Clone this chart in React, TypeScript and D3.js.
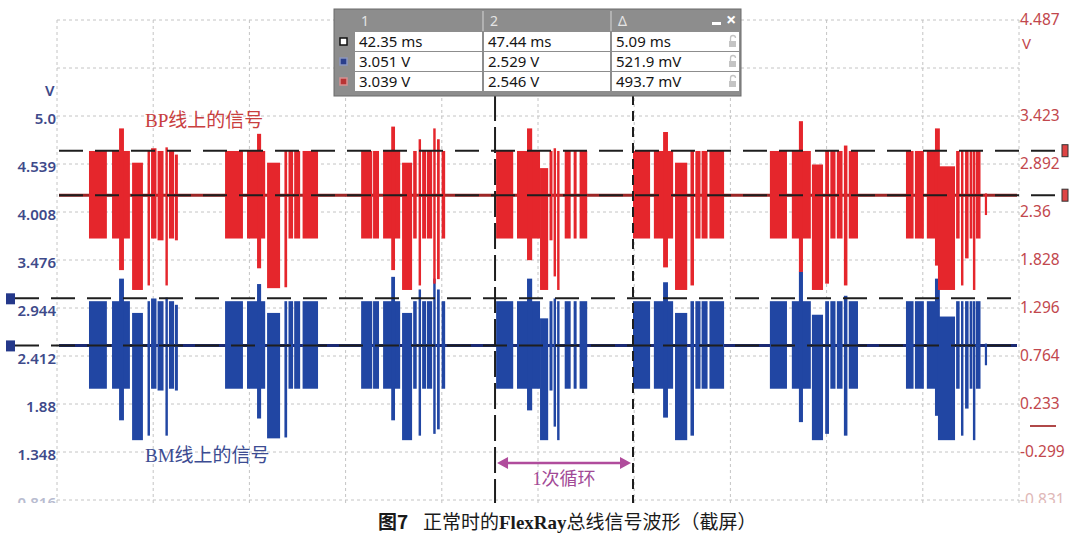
import React from 'react';
import * as d3 from 'd3';

type Segment = [number, number, number, number];

// time window (ms) and the two voltage axes of the scope screen
const timeDomain = [26.19, 61.68];
const bpAxisDomain = [-0.831, 4.487];
const bmAxisDomain = [0.816, 6.135];

const leftTickValues = [5.071, 4.539, 4.008, 3.476, 2.944, 2.412, 1.88, 1.348, 0.816];
const leftTickLabels = ['5.0', '4.539', '4.008', '3.476', '2.944', '2.412', '1.88', '1.348', '0.816'];
const rightTickValues = [4.487, 3.423, 2.892, 2.36, 1.828, 1.296, 0.764, 0.233, -0.299, -0.831];
const rightTickLabels = ['4.487', '3.423', '2.892', '2.36', '1.828', '1.296', '0.764', '0.233', '-0.299', '-0.831'];

// cursor readings
const cursorTimes = [42.35, 47.44];
const bpCursorLevels = [3.039, 2.546];
const bmCursorLevels = [3.051, 2.529];
const bpIdle = 2.546;
const bmIdle = 2.529;

// start of each FlexRay communication cycle (ms)
const burstStarts = [27.37, 32.39, 37.41, 42.39, 47.44, 52.49, 57.51];

// frames inside a burst: [start offset ms, end offset ms, high dev V, low dev V]
const burst1: Segment[] = [
  [0, 0.66, 0.49, -0.48], [0.85, 1.51, 0.49, -0.48], [1.11, 1.29, 0.74, -0.83],
  [1.59, 1.99, 0.36, -1.05], [2.16, 2.25, 0.49, -1.0], [2.29, 2.49, 0.52, -0.48],
  [2.53, 2.75, 0.49, -0.5], [2.82, 2.91, 0.53, -1.0], [2.95, 3.14, 0.49, -0.48],
  [3.17, 3.28, 0.45, -0.5],
];
const burst2: Segment[] = [
  [0, 0.66, 0.49, -0.48], [0.81, 1.48, 0.49, -0.48], [1.18, 1.33, 0.68, -0.81],
  [1.55, 2.03, 0.36, -1.03], [2.19, 2.29, 0.49, -1.02], [2.34, 2.51, 0.49, -0.48],
  [2.55, 2.77, 0.49, -0.48], [2.86, 3.43, 0.49, -0.48],
];
const burst3: Segment[] = [
  [0, 0.41, 0.49, -0.48], [0.44, 0.66, 0.49, -0.48], [0.81, 1.44, 0.49, -0.48],
  [1.11, 1.25, 0.76, -0.83], [1.51, 1.88, 0.36, -1.05], [1.92, 2.05, 0.49, -0.48],
  [2.12, 2.21, 0.62, -1.0], [2.25, 2.4, 0.49, -0.48], [2.43, 2.62, 0.49, -0.48],
  [2.66, 2.75, 0.74, -0.98], [2.8, 2.9, 0.62, -0.93], [2.97, 3.1, 0.49, -0.48],
];
const burst4: Segment[] = [
  [0, 0.63, 0.49, -0.48], [0.77, 1.62, 0.49, -0.48], [1.14, 1.33, 0.74, -0.72],
  [1.62, 1.92, 0.3, -1.05], [1.97, 2.08, 0.49, -0.5], [2.12, 2.21, 0.52, -0.9],
  [2.25, 2.34, 0.49, -1.05], [2.53, 2.75, 0.49, -0.48], [2.86, 2.97, 0.49, -0.48],
  [3.08, 3.36, 0.49, -0.48],
];
const burst5: Segment[] = [
  [0, 0.63, 0.49, -0.48], [0.77, 1.48, 0.49, -0.48], [1.11, 1.29, 0.7, -0.8],
  [1.55, 2.0, 0.36, -1.05], [2.12, 2.25, 0.49, -1.0], [2.3, 2.49, 0.49, -0.48],
  [2.53, 2.75, 0.49, -0.48], [2.82, 3.36, 0.49, -0.48],
];
const burst6: Segment[] = [
  [0, 0.63, 0.49, -0.48], [0.81, 1.51, 0.49, -0.48], [1.07, 1.22, 0.82, -0.85],
  [1.55, 1.96, 0.34, -1.05], [2.04, 2.18, 0.49, -0.98], [2.23, 2.42, 0.49, -0.48],
  [2.47, 2.68, 0.49, -0.48], [2.73, 2.86, 0.55, -1.0], [2.91, 3.25, 0.49, -0.48],
];
const burst7: Segment[] = [
  [0, 0.28, 0.49, -0.48], [0.33, 0.66, 0.49, -0.48], [0.77, 1.18, 0.49, -0.48],
  [1.07, 1.25, 0.74, -0.78], [1.18, 1.81, 0.32, -1.05], [1.85, 1.98, 0.49, -0.48],
  [2.03, 2.12, 0.49, -1.0], [2.18, 2.31, 0.49, -0.7], [2.35, 2.45, 0.49, -0.48],
  [2.47, 2.56, 0.49, -1.05], [2.58, 2.75, 0.49, -0.48], [2.91, 2.99, 0.02, -0.22],
];
const bursts = [burst1, burst2, burst3, burst4, burst5, burst6, burst7];

// measurement table
const tableHeader = ['1', '2', 'Δ'];
const tableTime = ['42.35 ms', '47.44 ms', '5.09 ms'];
const tableBM = ['3.051 V', '2.529 V', '521.9 mV'];
const tableBP = ['3.039 V', '2.546 V', '493.7 mV'];

const uiFont = "'Noto Sans', 'DejaVu Sans', sans-serif";
const cjkFont = "'Liberation Serif', 'Noto Sans CJK SC', serif";

const App: React.FC = () => {
  const svgRef = React.useRef<SVGSVGElement>(null);

  React.useEffect(() => {
    if (!svgRef.current) return;
    const svg = d3.select(svgRef.current);
    svg.selectAll('*').remove();

    const x = d3.scaleLinear().domain(timeDomain).range([57, 1019]);
    const yBP = d3.scaleLinear().domain(bpAxisDomain).range([500, 20]);
    const yBM = d3.scaleLinear().domain(bmAxisDomain).range([500, 20]);

    svg.append('defs')
      .append('clipPath')
      .attr('id', 'screen')
      .append('rect')
      .attr('x', 0).attr('y', 0).attr('width', 1080).attr('height', 503);

    const screen = svg.append('g').attr('clip-path', 'url(#screen)');

    // grid
    const divTimes = d3.range(11).map(k => timeDomain[0] + k * (timeDomain[1] - timeDomain[0]) / 10);
    const divLevels = d3.range(11).map(k => bpAxisDomain[1] - k * (bpAxisDomain[1] - bpAxisDomain[0]) / 10);
    screen.append('g')
      .selectAll('line')
      .data(divTimes)
      .join('line')
        .attr('x1', d => x(d)).attr('x2', d => x(d))
        .attr('y1', 20).attr('y2', 505)
        .attr('stroke', '#c4c4c4')
        .attr('stroke-dasharray', '3,3');
    screen.append('g')
      .selectAll('line')
      .data(divLevels)
      .join('line')
        .attr('x1', 57).attr('x2', 1019)
        .attr('y1', d => yBP(d)).attr('y2', d => yBP(d))
        .attr('stroke', '#c4c4c4')
        .attr('stroke-dasharray', '3,3');

    // traces
    const channels = [
      { y: yBM, idle: bmIdle, fill: '#2146a3', line: '#1b2a74' },
      { y: yBP, idle: bpIdle, fill: '#e5262c', line: '#9c2626' },
    ];
    channels.forEach(ch => {
      const g = screen.append('g');
      g.append('line')
        .attr('x1', 59).attr('x2', 1017)
        .attr('y1', ch.y(ch.idle)).attr('y2', ch.y(ch.idle))
        .attr('stroke', ch.line)
        .attr('stroke-width', 3);
      const frames = bursts.flatMap((segs, i) => segs.map(s => ({ t0: burstStarts[i] + s[0], t1: burstStarts[i] + s[1], hi: s[2], lo: s[3] })));
      g.selectAll('rect')
        .data(frames)
        .join('rect')
          .attr('x', d => x(d.t0))
          .attr('width', d => Math.max(2.2, x(d.t1) - x(d.t0)))
          .attr('y', d => ch.y(ch.idle + d.hi))
          .attr('height', d => ch.y(ch.idle + d.lo) - ch.y(ch.idle + d.hi))
          .attr('fill', ch.fill);
    });

    // horizontal cursor levels
    screen.append('g')
      .selectAll('line')
      .data(bpCursorLevels)
      .join('line')
        .attr('x1', 59).attr('x2', 1062)
        .attr('y1', d => yBP(d)).attr('y2', d => yBP(d))
        .attr('stroke', '#1e1e1e')
        .attr('stroke-width', 2)
        .attr('stroke-dasharray', '24,12');
    screen.append('g')
      .selectAll('line')
      .data(bmCursorLevels)
      .join('line')
        .attr('x1', 15).attr('x2', 1017)
        .attr('y1', d => yBM(d)).attr('y2', d => yBM(d))
        .attr('stroke', '#1e1e1e')
        .attr('stroke-width', 2)
        .attr('stroke-dasharray', '24,12');

    screen.append('g')
      .selectAll('rect')
      .data(bpCursorLevels)
      .join('rect')
        .attr('x', 1062).attr('width', 6)
        .attr('y', d => yBP(d) - 6).attr('height', 12)
        .attr('fill', '#de4444')
        .attr('stroke', '#333');
    screen.append('g')
      .selectAll('rect')
      .data(bmCursorLevels)
      .join('rect')
        .attr('x', 6).attr('width', 9)
        .attr('y', d => yBM(d) - 5).attr('height', 11)
        .attr('fill', '#24388a');

    // vertical time cursors
    screen.append('g')
      .selectAll('line')
      .data(cursorTimes)
      .join('line')
        .attr('x1', d => x(d)).attr('x2', d => x(d))
        .attr('y1', 95).attr('y2', 505)
        .attr('stroke', '#1e1e1e')
        .attr('stroke-width', 2)
        .attr('stroke-dasharray', (_, i) => (i === 0 ? '26,6' : '10,6'));

    // axis labels
    screen.append('g')
      .selectAll('text')
      .data(leftTickValues)
      .join('text')
        .attr('x', 56)
        .attr('y', d => yBM(d) + 8)
        .attr('text-anchor', 'end')
        .attr('font-family', uiFont)
        .attr('font-size', 15)
        .attr('font-weight', 600)
        .attr('fill', (_, i) => (i === leftTickValues.length - 1 ? '#b8bcd0' : '#3e4a8a'))
        .text((_, i) => leftTickLabels[i]);
    screen.append('g')
      .selectAll('text')
      .data(rightTickValues)
      .join('text')
        .attr('x', 1020)
        .attr('y', d => yBP(d) + 5)
        .attr('font-family', uiFont)
        .attr('font-size', 15.5)
        .attr('fill', (_, i) => (i === rightTickValues.length - 1 ? '#e0b8b8' : '#c2474d'))
        .text((_, i) => rightTickLabels[i]);
    screen.append('text')
      .attr('x', 45).attr('y', 96)
      .attr('font-family', uiFont).attr('font-size', 15).attr('font-weight', 600)
      .attr('fill', '#3e4a8a')
      .text('V');
    screen.append('text')
      .attr('x', 1022).attr('y', 49)
      .attr('font-family', uiFont).attr('font-size', 15)
      .attr('fill', '#c2474d')
      .text('V');
    screen.append('line')
      .attr('x1', 1030).attr('x2', 1056)
      .attr('y1', 426).attr('y2', 426)
      .attr('stroke', '#b04848').attr('stroke-width', 2);

    // annotations
    screen.append('text')
      .attr('x', 145).attr('y', 127)
      .attr('font-family', cjkFont).attr('font-size', 19)
      .attr('fill', '#c9403f')
      .text('BP线上的信号');
    screen.append('text')
      .attr('x', 145).attr('y', 462)
      .attr('font-family', cjkFont).attr('font-size', 19)
      .attr('fill', '#3c4c92')
      .text('BM线上的信号');

    const arrowY = 463;
    const ax0 = x(cursorTimes[0]) + 2;
    const ax1 = x(cursorTimes[1]) - 2;
    const arrow = screen.append('g').attr('fill', '#b04c9c').attr('stroke', '#b04c9c');
    arrow.append('line')
      .attr('x1', ax0 + 6).attr('x2', ax1 - 6)
      .attr('y1', arrowY).attr('y2', arrowY)
      .attr('stroke-width', 2.5);
    arrow.append('path')
      .attr('d', `M${ax0},${arrowY} l11,-6 l0,12 z M${ax1},${arrowY} l-11,-6 l0,12 z`)
      .attr('stroke', 'none');
    screen.append('text')
      .attr('x', (ax0 + ax1) / 2).attr('y', 485)
      .attr('text-anchor', 'middle')
      .attr('font-family', cjkFont).attr('font-size', 18)
      .attr('fill', '#a24a96')
      .text('1次循环');

    // measurement table
    const table = svg.append('g');
    table.append('rect')
      .attr('x', 334).attr('y', 9).attr('width', 407).attr('height', 87)
      .attr('fill', '#8d8d8d').attr('stroke', '#6a6a6a');
    const colX = [355, 484, 612];
    const colW = [127, 126, 127];
    const rowY = [32, 52, 72];
    const rows = [tableTime, tableBM, tableBP];
    const iconFill = ['#ffffff', '#2b3f8c', '#b83434'];
    const iconStroke = ['#111', '#8a96c0', '#d89090'];

    table.selectAll('.hdr')
      .data(tableHeader)
      .join('text')
        .attr('class', 'hdr')
        .attr('x', (_, i) => colX[i] + 6).attr('y', 26)
        .attr('font-family', uiFont).attr('font-size', 14)
        .attr('fill', '#e4e4e4')
        .text(d => d);
    table.selectAll('.div')
      .data(colX.slice(1))
      .join('line')
        .attr('class', 'div')
        .attr('x1', d => d - 1).attr('x2', d => d - 1)
        .attr('y1', 11).attr('y2', 31)
        .attr('stroke', '#d6d6d6');
    table.append('rect')
      .attr('x', 712).attr('y', 22).attr('width', 9).attr('height', 3)
      .attr('fill', '#fff');
    table.append('text')
      .attr('x', 726).attr('y', 26)
      .attr('font-family', uiFont).attr('font-size', 18).attr('font-weight', 700)
      .attr('fill', '#fff')
      .text('×');

    rows.forEach((row, r) => {
      const g = table.append('g');
      g.selectAll('rect')
        .data(row)
        .join('rect')
          .attr('x', (_, i) => colX[i]).attr('y', rowY[r])
          .attr('width', (_, i) => colW[i]).attr('height', 19)
          .attr('fill', '#fff');
      g.selectAll('text')
        .data(row)
        .join('text')
          .attr('x', (_, i) => colX[i] + 4).attr('y', rowY[r] + 15)
          .attr('font-family', uiFont).attr('font-size', 15)
          .attr('fill', '#151515')
          .text(d => d);
      g.append('rect')
        .attr('x', 340).attr('y', rowY[r] + 6).attr('width', 7).attr('height', 7)
        .attr('fill', iconFill[r]).attr('stroke', iconStroke[r]).attr('stroke-width', 1.5);
      g.append('rect')
        .attr('x', 729).attr('y', rowY[r] + 9).attr('width', 7).attr('height', 6)
        .attr('fill', '#c4c4c4');
      g.append('path')
        .attr('d', `M730.5,${rowY[r] + 9} v-3 a2.5,2.5 0 0 1 5,0`)
        .attr('fill', 'none').attr('stroke', '#c4c4c4').attr('stroke-width', 1.3);
    });

    // caption
    const caption = svg.append('text')
      .attr('y', 529)
      .attr('font-family', "'Noto Sans CJK SC', sans-serif")
      .attr('font-size', 19)
      .attr('font-weight', 400)
      .attr('fill', '#1a1a1a');
    caption.append('tspan').attr('x', 378).attr('font-weight', 700).text('图7');
    caption.append('tspan').attr('x', 423).text('正常时的');
    caption.append('tspan')
      .attr('font-family', "'Liberation Serif', serif")
      .attr('font-weight', 700)
      .text('FlexRay');
    caption.append('tspan').text('总线信号波形（截屏）');
  }, []);

  return (
    <svg
      ref={svgRef}
      width={1080}
      height={541}
      style={{ position: 'absolute', left: 0, top: 0, background: '#fff' }}
    />
  );
};

export default App;
